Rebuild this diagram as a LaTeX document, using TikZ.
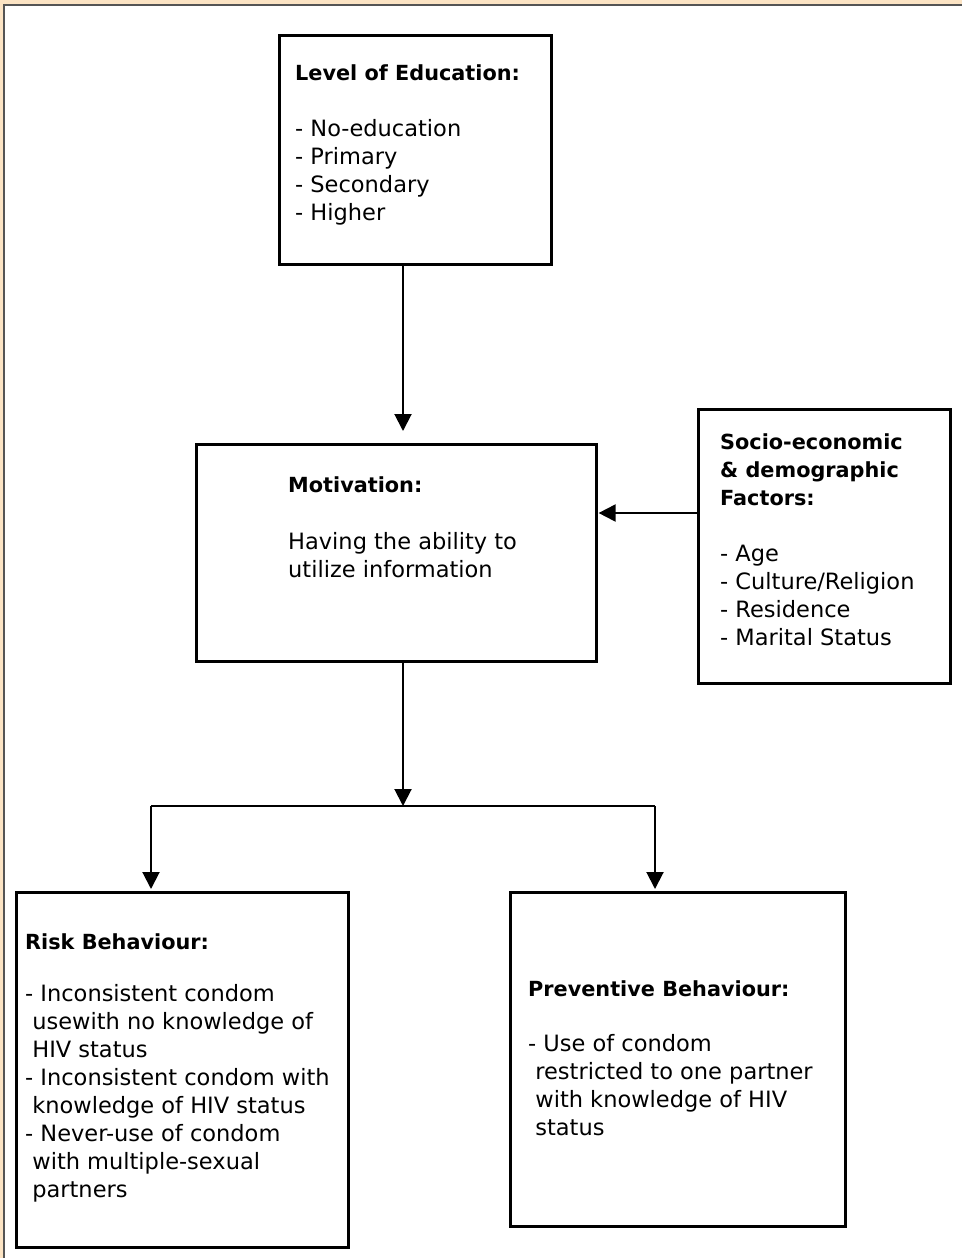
\documentclass[tikz,border=0pt]{standalone}
\usepackage{fontspec}
\setmainfont{DejaVu Sans}
\usetikzlibrary{arrows.meta}
\definecolor{cream}{RGB}{252,228,196}
\definecolor{framegray}{RGB}{85,85,85}
\newcommand{\ttl}[1]{{\fontsize{20.8}{28}\selectfont\bfseries #1}}
\begin{document}
\begin{tikzpicture}[x=1pt,y=-1pt,
  box/.style={draw=black, line width=2.6pt, inner sep=0pt, anchor=north west},
  txt/.style={anchor=base west, align=left, inner sep=0pt, font=\fontsize{22.5}{28}\selectfont},
  arr/.style={line width=2pt, -{Triangle[length=17pt,width=17pt]}},
  ln/.style={line width=2pt}]
\useasboundingbox (0,0) rectangle (962,1258);
% frame
\fill[cream] (0,0) rectangle (962,1258);
\fill[white] (5,6) rectangle (962,1258);
\draw[framegray, line width=2pt] (4,1258) -- (4,5) -- (962,5);
% boxes
\node[box, minimum width=272pt, minimum height=229pt] (edu) at (278,34) {};
\node[box, minimum width=400pt, minimum height=217pt] (mot) at (195,443) {};
\node[box, minimum width=252pt, minimum height=274pt] (soc) at (697,408) {};
\node[box, minimum width=332pt, minimum height=355pt] (risk) at (15,891) {};
\node[box, minimum width=335pt, minimum height=334pt] (prev) at (509,891) {};
% texts (anchor = baseline of last line)
\node[txt] (edut) at (295,220) {\ttl{Level of Education:}\\[28pt]- No-education\\- Primary\\- Secondary\\- Higher};
\node[txt] (mott) at (288,577) {\ttl{Motivation:}\\[29pt]Having the ability to\\utilize information};
\node[txt] (soct) at (720,645) {\ttl{Socio-economic}\\\ttl{\& demographic}\\\ttl{Factors:}\\[28pt]- Age\\- Culture/Religion\\- Residence\\- Marital Status};
\node[txt] (riskt) at (25,1197) {\ttl{Risk Behaviour:}\\[24pt]- Inconsistent condom\\\ usewith no knowledge of\\\ HIV status\\- Inconsistent condom with\\\ knowledge of HIV status\\- Never-use of condom\\\ with multiple-sexual\\\ partners};
\node[txt] (prevt) at (528,1135) {\ttl{Preventive Behaviour:}\\[27pt]- Use of condom\\\ restricted to one partner\\\ with knowledge of HIV\\\ status};
% connectors
\coordinate (xa) at (403,0);
\coordinate (split) at (403,806);
\coordinate (xl) at (151,0);
\coordinate (xr) at (655,0);
\draw[arr, shorten >=12pt] (edu.south -| xa) -- (mot.north -| xa);
\draw[arr, shorten >=1pt] (soc.west |- 0,513) -- (mot.east |- 0,513);
\draw[arr] (mot.south -| xa) -- (split);
\draw[ln] (split -| xl) -- (split -| xr);
\draw[arr, shorten >=2pt] (split -| xl) -- (risk.north -| xl);
\draw[arr, shorten >=2pt] (split -| xr) -- (prev.north -| xr);
\end{tikzpicture}
\end{document}
